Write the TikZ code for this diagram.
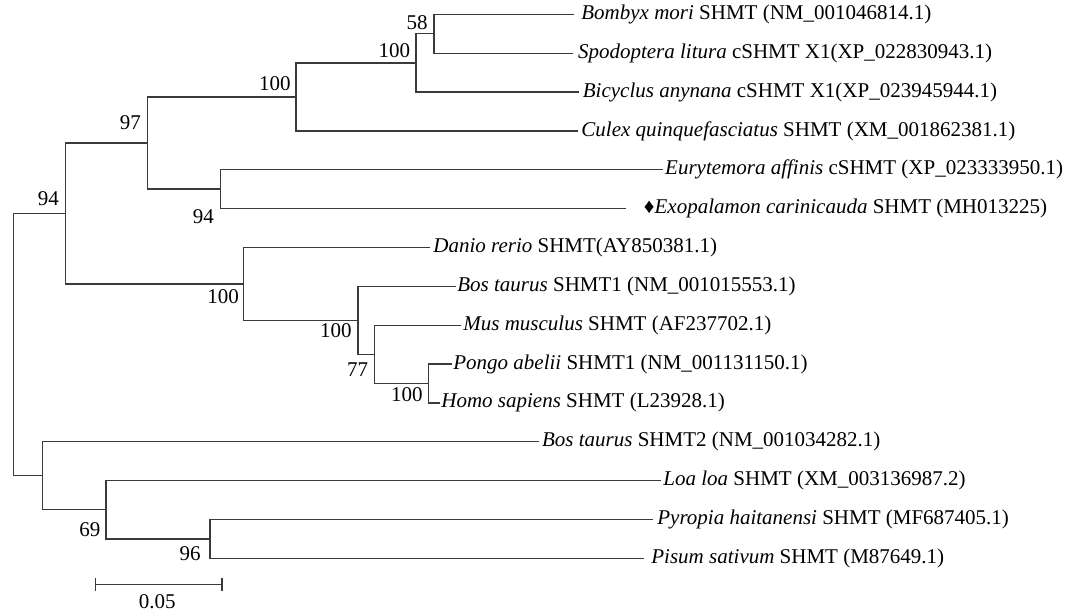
\documentclass[tikz,border=0pt]{standalone}
\usepackage{fontspec}
\setmainfont{Liberation Serif}
\usetikzlibrary{arrows.meta}
\definecolor{treegray}{HTML}{3A3A3A}

\begin{document}
\begin{tikzpicture}[
    x=0.5pt, y=-0.5pt,
    font=\fontsize{10.5}{12}\selectfont,
    branch/.style={draw=treegray, line width=0.65pt},
    leaf/.style={anchor=west, inner sep=0pt},
    boot/.style={anchor=base east, inner sep=0pt},
    scalebar/.style={branch, {Bar[width=6.2pt]}-{Bar[width=6.2pt]}}
]
\useasboundingbox (0,0) rectangle (1076,614);
% tips of the branches
\coordinate (tBombyx) at (573.5,14.3);
\coordinate (tSpodoptera) at (572.5,53.2);
\coordinate (tBicyclus) at (579.3,92.0);
\coordinate (tCulex) at (578.3,130.9);
\coordinate (tEurytemora) at (663,169.7);
\coordinate (tExopalamon) at (626,208.6);
\coordinate (tDanio) at (430,247.5);
\coordinate (tBosA) at (455.5,286.3);
\coordinate (tMus) at (461.4,325.2);
\coordinate (tPongo) at (451.5,364.0);
\coordinate (tHomo) at (440,402.9);
\coordinate (tBosB) at (539.3,441.8);
\coordinate (tLoa) at (661.4,480.6);
\coordinate (tPyropia) at (652.8,519.5);
\coordinate (tPisum) at (644.3,558.3);
% internal nodes
\coordinate (root) at (13.5,344.6);
\coordinate (nA) at (65.4,213.5);
\coordinate (nB) at (147.4,143.0);
\coordinate (nC) at (296.1,96.9);
\coordinate (nD) at (416,62.9);
\coordinate (nE) at (433.9,33.75);
\coordinate (nF) at (220.4,189.15);
\coordinate (nG) at (243.8,283.9);
\coordinate (nH) at (358.1,320.3);
\coordinate (nI) at (374.7,354.3);
\coordinate (nJ) at (428.7,383.45);
\coordinate (nK) at (42.7,475.8);
\coordinate (nL) at (106,509.75);
\coordinate (nM) at (210,538.9);
% taxa
\node[leaf] (lBombyx) at (581,14.3) {\textit{Bombyx mori} SHMT (NM\_001046814.1)};
\node[leaf] (lSpodoptera) at (577.6,53.2) {\textit{Spodoptera litura} cSHMT X1(XP\_022830943.1)};
\node[leaf] (lBicyclus) at (582.5,92.0) {\textit{Bicyclus anynana} cSHMT X1(XP\_023945944.1)};
\node[leaf] (lCulex) at (581,130.9) {\textit{Culex quinquefasciatus} SHMT (XM\_001862381.1)};
\node[leaf] (lEurytemora) at (664.8,169.7) {\textit{Eurytemora affinis} cSHMT (XP\_023333950.1)};
\node[leaf] (lExopalamon) at (643.5,208.6) {\char"2666\textit{Exopalamon carinicauda} SHMT (MH013225)};
\node[leaf] (lDanio) at (433,247.5) {\textit{Danio rerio} SHMT(AY850381.1)};
\node[leaf] (lBosA) at (457,286.3) {\textit{Bos taurus} SHMT1 (NM\_001015553.1)};
\node[leaf] (lMus) at (463,325.2) {\textit{Mus musculus} SHMT (AF237702.1)};
\node[leaf] (lPongo) at (453,364.0) {\textit{Pongo abelii} SHMT1 (NM\_001131150.1)};
\node[leaf] (lHomo) at (441,402.9) {\textit{Homo sapiens} SHMT (L23928.1)};
\node[leaf] (lBosB) at (541.7,441.8) {\textit{Bos taurus} SHMT2 (NM\_001034282.1)};
\node[leaf] (lLoa) at (663,480.6) {\textit{Loa loa} SHMT (XM\_003136987.2)};
\node[leaf] (lPyropia) at (657,519.5) {\textit{Pyropia haitanensi} SHMT (MF687405.1)};
\node[leaf] (lPisum) at (651,558.3) {\textit{Pisum sativum} SHMT (M87649.1)};
% clades
\draw[branch] (tBombyx) -| (nE) |- (tSpodoptera);
\draw[branch] (nE) -| (nD) |- (tBicyclus);
\draw[branch] (nD) -| (nC) |- (tCulex);
\draw[branch] (tEurytemora) -| (nF) |- (tExopalamon);
\draw[branch] (nC) -| (nB) |- (nF);
\draw[branch] (tPongo) -| (nJ) |- (tHomo);
\draw[branch] (tMus) -| (nI) |- (nJ);
\draw[branch] (tBosA) -| (nH) |- (nI);
\draw[branch] (tDanio) -| (nG) |- (nH);
\draw[branch] (nB) -| (nA) |- (nG);
\draw[branch] (tPyropia) -| (nM) |- (tPisum);
\draw[branch] (tLoa) -| (nL) |- (nM);
\draw[branch] (tBosB) -| (nK) |- (nL);
\draw[branch] (nA) -| (root) |- (nK);
% bootstrap values
\node[boot] (bE) at (428,30) {58};
\node[boot] (bD) at (410.5,57.3) {100};
\node[boot] (bC) at (291,91) {100};
\node[boot] (bB) at (141.2,129.3) {97};
\node[boot] (bA) at (59.2,205.7) {94};
\node[boot] (bF) at (214.2,224) {94};
\node[boot] (bG) at (239.3,303.3) {100};
\node[boot] (bH) at (351.9,337.7) {100};
\node[boot] (bI) at (368.5,376.7) {77};
\node[boot] (bJ) at (422.9,401.7) {100};
\node[boot] (bL) at (100.7,536.7) {69};
\node[boot] (bM) at (201,560) {96};
% scale bar
\coordinate (sbL) at (95,584.3);
\coordinate (sbR) at (222.7,584.3);
\draw[scalebar] (sbL) -- (sbR);
\node[anchor=base] (sbText) at (157.2,608.3) {0.05};
\end{tikzpicture}
\end{document}
